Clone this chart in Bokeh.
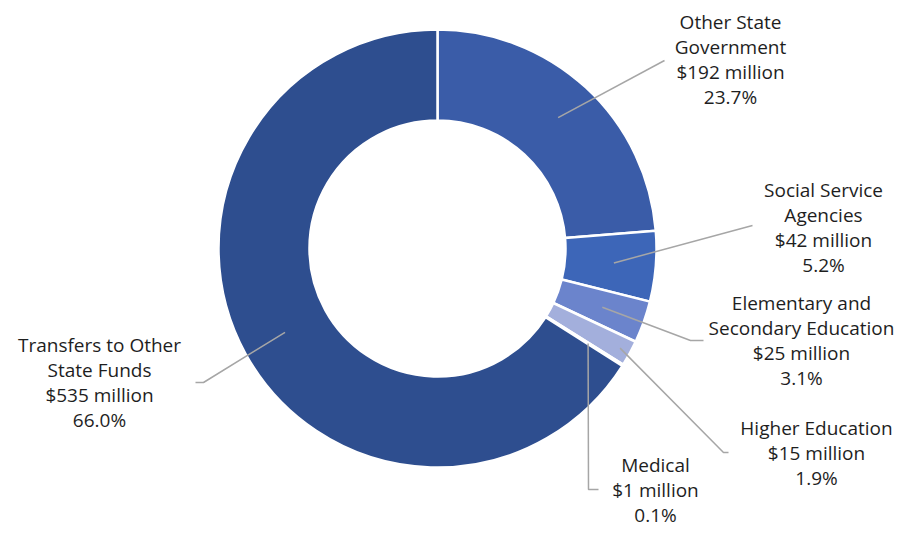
import math
from bokeh.plotting import figure
from bokeh.models import Range1d, ColumnDataSource
from bokeh.core.properties import value
from bokeh.embed import file_html
from bokeh.resources import INLINE

# ---- data ----
names = ["Other State\nGovernment", "Social Service\nAgencies",
         "Elementary and\nSecondary Education", "Higher Education",
         "Medical", "Transfers to Other\nState Funds"]
amounts = [192, 42, 25, 15, 1, 535]          # $ million
percents = [23.7, 5.2, 3.1, 1.9, 0.1, 66.0]  # share of total

# ---- styling / layout (not data) ----
colors = ["#3a5ca8", "#3d66b8", "#6b84cc", "#a3afdc", "#dfe4f3", "#2e4e8f"]
W, H = 900, 530
cx, cy = 437, H - 248
r_out, r_in = 219, 128
LINE_GAP = 25
# leader start radius, elbow / end / label centre in screen coords (from top-left)
lead_r = [178, 177, 175, 208, 178, 174]
elbows = [(664, 60), (752, 225), (690, 340), (723, 452), (588, 489), (203, 382)]
ends = [(664, 60), (752, 225), (703, 340), (728, 452), (598, 489), (195, 382)]
label_xy = [(730, 59), (823, 227), (801, 340), (816, 452), (655, 489), (99, 382)]

p = figure(width=W, height=H, output_backend="svg", toolbar_location=None,
           x_range=Range1d(0, W), y_range=Range1d(0, H),
           min_border=0, outline_line_color=None)
p.axis.visible = False
p.grid.visible = False
p.background_fill_color = "white"
p.border_fill_color = "white"

total = sum(percents)
starts, stops, mids = [], [], []
acc = 0.0
for pc in percents:
    a0 = math.pi / 2 - 2 * math.pi * acc / total
    acc += pc
    a1 = math.pi / 2 - 2 * math.pi * acc / total
    starts.append(a0)
    stops.append(a1)
    mids.append((a0 + a1) / 2)

src = ColumnDataSource(dict(start=starts, end=stops, color=colors))
p.annular_wedge(x=cx, y=cy, inner_radius=r_in, outer_radius=r_out,
                start_angle="start", end_angle="end", direction="clock",
                fill_color="color", line_color="white", line_width=2.5,
                source=src)

# leader lines
for i in range(len(names)):
    sx = cx + lead_r[i] * math.cos(mids[i])
    sy = cy + lead_r[i] * math.sin(mids[i])
    ex, ey = elbows[i]
    fx, fy = ends[i]
    p.line([sx, ex, fx], [sy, H - ey, H - fy],
           line_color="#a6a6a6", line_width=1.5)

# labels, one text per line
tx, ty, tt = [], [], []
for i, (n, a, pc) in enumerate(zip(names, amounts, percents)):
    lines = n.split("\n") + [f"${a} million", f"{pc:.1f}%"]
    lx, ly = label_xy[i]
    k = len(lines)
    for j, s in enumerate(lines):
        tx.append(lx)
        ty.append(H - (ly + (j - (k - 1) / 2) * LINE_GAP))
        tt.append(s)

lsrc = ColumnDataSource(dict(x=tx, y=ty, t=tt))
p.text(x="x", y="y", text="t", source=lsrc, text_align="center",
       text_baseline="middle", text_font=value("Open Sans"), text_font_size="19px",
       text_color="#1e1e1e")

open("out.html", "w").write(file_html(p, INLINE))
